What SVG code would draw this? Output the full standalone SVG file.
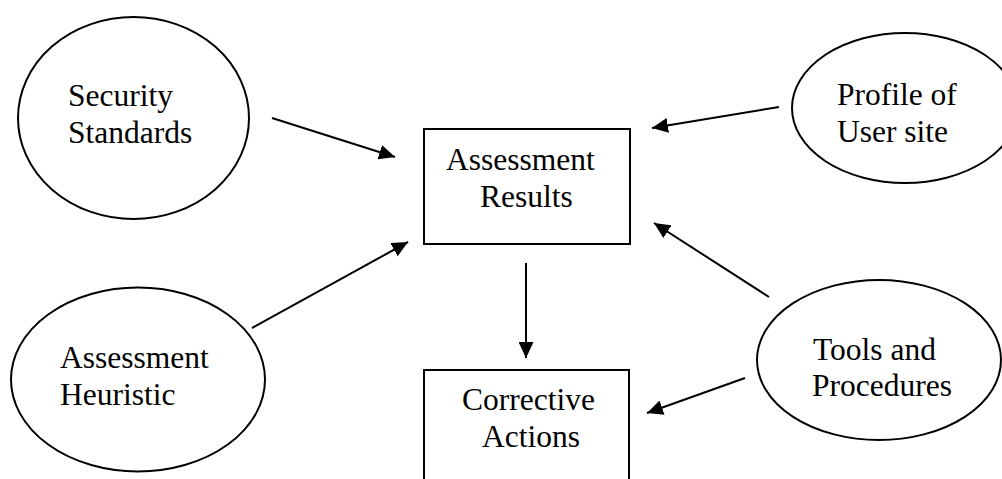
<svg xmlns="http://www.w3.org/2000/svg" width="1002" height="479" viewBox="0 0 1002 479">
<style>
.n{fill:#fff;stroke:#000;stroke-width:2}
.t{font-family:"Liberation Serif","Times New Roman",serif;font-size:31.5px;fill:#000}
.c{stroke:#000;stroke-width:2;fill:none;marker-end:url(#ah)}
</style>
<defs>
<marker id="ah" markerUnits="userSpaceOnUse" markerWidth="16" markerHeight="15" refX="16" refY="7.5" orient="auto">
<path d="M0,0 L16,7.5 L0,15 z" fill="#000"/>
</marker>
</defs>
<rect width="1002" height="479" fill="#fff"/>
<g id="security">
<ellipse class="n" cx="133.5" cy="118" rx="115.5" ry="101"/>
<text class="t" x="68" y="106">Security</text>
<text class="t" x="68" y="143">Standards</text>
</g>
<g id="profile">
<ellipse class="n" cx="905" cy="108" rx="113" ry="75"/>
<text class="t" x="837" y="105">Profile of</text>
<text class="t" x="837" y="142">User site</text>
</g>
<g id="heuristic">
<ellipse class="n" cx="138" cy="379.5" rx="127" ry="92"/>
<text class="t" x="60" y="368">Assessment</text>
<text class="t" x="60" y="405">Heuristic</text>
</g>
<g id="tools">
<ellipse class="n" cx="879" cy="360" rx="122" ry="80"/>
<text class="t" x="813" y="360">Tools and</text>
<text class="t" x="812" y="396">Procedures</text>
</g>
<g id="results">
<rect class="n" x="424" y="129" width="206" height="115"/>
<text class="t" x="446" y="170">Assessment</text>
<text class="t" x="480" y="207">Results</text>
</g>
<g id="corrective">
<rect class="n" x="424" y="370" width="205" height="130"/>
<text class="t" x="462" y="410">Corrective</text>
<text class="t" x="482" y="447">Actions</text>
</g>
<g id="connectors">
<line class="c" x1="272" y1="118" x2="395" y2="157"/>
<line class="c" x1="252" y1="328" x2="408" y2="242"/>
<line class="c" x1="779" y1="107" x2="652" y2="128"/>
<line class="c" x1="769" y1="297" x2="654" y2="223"/>
<line class="c" x1="745" y1="378" x2="647" y2="413"/>
<line class="c" x1="526" y1="263" x2="526" y2="358"/>
</g>
</svg>
